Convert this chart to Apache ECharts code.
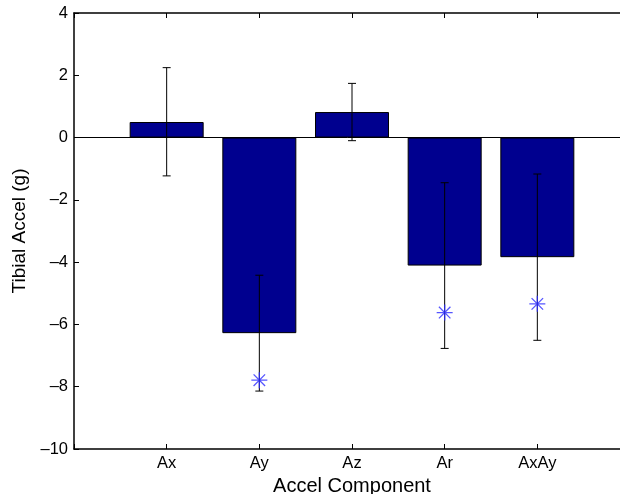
<!DOCTYPE html>
<html>
<head>
<meta charset="utf-8">
<script src="https://cdn.jsdelivr.net/npm/echarts@6/dist/echarts.min.js"></script>
<style>
  html, body { margin: 0; padding: 0; background: #fff; }
  #chart { width: 620px; height: 494px; }
</style>
</head>
<body>
<div id="chart"></div>
<script>
// datos
const categories = ['Ax', 'Ay', 'Az', 'Ar', 'AxAy'];
const positions = [1, 2, 3, 4, 5];
const means = [0.5, -6.28, 0.82, -4.11, -3.84];
const errLow = [-1.23, -8.14, -0.1, -6.77, -6.51];
const errHigh = [2.245, -4.42, 1.74, -1.45, -1.17];
const starPos = [2, 4, 5];
const starVals = [-7.79, -5.62, -5.34];
const yTicks = { min: -10, max: 4, step: 2 };

const font = 'Liberation Sans, Arial, Helvetica, sans-serif';
const asterisk = 'path://M0,-1L0,1M-1,0L1,0M-0.72,-0.72L0.72,0.72M-0.72,0.72L0.72,-0.72';

const chart = echarts.init(document.getElementById('chart'));

const xBase = {
  type: 'value',
  min: 0,
  max: 6,
  interval: 1,
  splitLine: { show: false },
  axisLine: { show: true, onZero: false, lineStyle: { color: '#000', width: 1.5 } },
  axisTick: { show: true, inside: true, length: 5, lineStyle: { color: '#000', width: 1 } }
};

const option = {
  animation: false,
  grid: { left: 74, top: 13, width: 556, height: 436, outerBoundsMode: 'none', containLabel: false },
  xAxis: [
    Object.assign({}, xBase, {
      position: 'bottom',
      name: 'Accel Component',
      nameLocation: 'middle',
      nameGap: 16,
      nameTextStyle: { fontFamily: font, fontSize: 20, color: '#000' },
      axisLabel: {
        fontFamily: font, fontSize: 16.5, color: '#000', margin: 6,
        formatter: v => (v >= 1 && v <= 5 ? categories[v - 1] : '')
      }
    }),
    Object.assign({}, xBase, {
      position: 'top',
      axisLabel: { show: false }
    })
  ],
  yAxis: {
    type: 'value',
    min: yTicks.min,
    max: yTicks.max,
    interval: yTicks.step,
    name: 'Tibial Accel (g)',
    nameLocation: 'middle',
    nameGap: 41,
    nameTextStyle: { fontFamily: font, fontSize: 19, color: '#000' },
    splitLine: { show: false },
    axisLine: { show: true, onZero: false, lineStyle: { color: '#000', width: 1.5 } },
    axisTick: { show: true, inside: true, length: 5, lineStyle: { color: '#000' } },
    axisLabel: {
      fontFamily: font, fontSize: 16.5, color: '#000', margin: 6,
      formatter: v => String(v).replace('-', '\u2013')
    }
  },
  series: [
    {
      type: 'bar',
      data: positions.map((p, i) => [p, means[i]]),
      barWidth: 74,
      itemStyle: { color: '#00008f', borderColor: '#000', borderWidth: 1 },
      markLine: {
        silent: true,
        symbol: 'none',
        label: { show: false },
        lineStyle: { color: '#000', width: 1, type: 'solid' },
        data: [{ yAxis: 0 }]
      },
      z: 2
    },
    {
      type: 'custom',
      data: positions.map((p, i) => [p, errLow[i], errHigh[i]]),
      renderItem: (params, api) => {
        const lo = api.coord([api.value(0), api.value(1)]);
        const hi = api.coord([api.value(0), api.value(2)]);
        const cap = 4;
        const st = { stroke: '#000', lineWidth: 1 };
        return {
          type: 'group',
          children: [
            { type: 'line', shape: { x1: lo[0], y1: lo[1], x2: hi[0], y2: hi[1] }, style: st },
            { type: 'line', shape: { x1: lo[0] - cap, y1: lo[1], x2: lo[0] + cap, y2: lo[1] }, style: st },
            { type: 'line', shape: { x1: hi[0] - cap, y1: hi[1], x2: hi[0] + cap, y2: hi[1] }, style: st }
          ]
        };
      },
      z: 3
    },
    {
      type: 'scatter',
      data: starPos.map((p, i) => [p, starVals[i]]),
      symbol: asterisk,
      symbolSize: 16,
      itemStyle: { color: 'none', borderColor: '#2b2bff', borderWidth: 1.3 },
      z: 4
    }
  ]
};

chart.setOption(option);
</script>
</body>
</html>
